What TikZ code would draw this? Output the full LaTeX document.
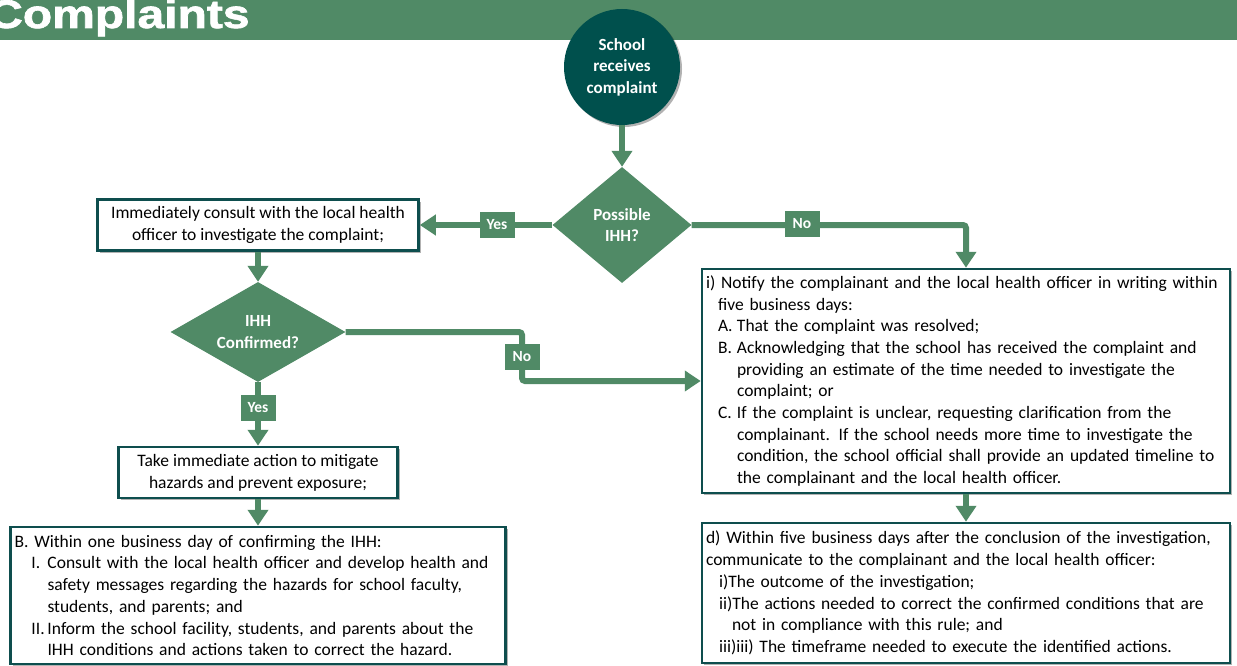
\documentclass[tikz,border=0pt]{standalone}
\usepackage{fontspec}
\setmainfont{Carlito}
\newfontfamily\headfont{Liberation Sans}[BoldFeatures={FakeBold=1.5}]
\usetikzlibrary{shapes.geometric,arrows.meta,shadows}
\definecolor{flowgreen}{RGB}{80,138,102}
\definecolor{darkteal}{RGB}{0,80,77}
\definecolor{boxline}{RGB}{14,78,78}

\begin{document}
\begin{tikzpicture}[x=1pt,y=-1pt,
    boxshadow/.style={drop shadow={shadow xshift=2pt,shadow yshift=-2pt,opacity=0.3,fill=black}},
    flowline/.style={draw=flowgreen, line width=6pt, rounded corners=3pt, -{Triangle[width=20pt,length=16pt]}}]
    \useasboundingbox (0,0) rectangle (1237,666);

    \fill[flowgreen] (0,0) rectangle (1237,40);
    \begin{scope}
        \clip (0,0) rectangle (1237,40);
        \node[anchor=base west, text=white, inner sep=0pt, font=\headfont\bfseries\fontsize{40}{44}\selectfont] (title) at (-12,28) {\scalebox{1.2}[1]{Complaints}};
    \end{scope}

    \begin{scope}[every node/.style={circle, fill=darkteal, text=white, boxshadow, minimum size=116pt, inner sep=0pt, align=center, font=\bfseries\fontsize{17}{21.5}\selectfont}]
        \node (start) at (622,67) {School\\receives\\complaint};
    \end{scope}

    \begin{scope}[every node/.style={diamond, fill=flowgreen, text=white, inner sep=0pt, align=center, font=\bfseries\fontsize{17}{21.5}\selectfont}]
        \node[aspect=1.2, minimum width=139pt, minimum height=116pt] (possible) at (622,225) {Possible\\IHH?};
        \node[aspect=1.75, minimum width=175pt, minimum height=100pt] (confirmed) at (258,332) {IHH\\Confirmed?};
    \end{scope}

    \begin{scope}[every node/.style={draw=boxline, line width=2.5pt, fill=white, boxshadow, inner sep=4pt, font=\fontsize{17.5}{21.7}\selectfont}]
        \node[minimum width=321pt, minimum height=51pt, align=center] (consult) at (258,225) {Immediately consult with the local health\\officer to investigate the complaint;};
        \node[minimum width=279pt, minimum height=51pt, align=center] (mitigate) at (258,472.5) {Take immediate action to mitigate\\hazards and prevent exposure;};
        \node[text width=487pt, minimum height=137pt, align=left] (within) at (258,595.5) {B. Within one business day of confirming the IHH:\\
            \hspace*{17pt}\makebox[16pt][l]{I.}Consult with the local health officer and develop health and\\
            \hspace*{33pt}safety messages regarding the hazards for school faculty,\\
            \hspace*{33pt}students, and parents; and\\
            \hspace*{17pt}\makebox[16pt][l]{II.}Inform the school facility, students, and parents about the\\
            \hspace*{33pt}IHH conditions and actions taken to correct the hazard.};
        \node[text width=520pt, minimum height=224pt, align=left] (notify) at (966,381) {i) Notify the complainant and the local health officer in writing within\\
            \hspace*{12pt}five business days:\\
            \hspace*{12pt}\makebox[19pt][l]{A.}That the complaint was resolved;\\
            \hspace*{12pt}\makebox[19pt][l]{B.}Acknowledging that the school has received the complaint and\\
            \hspace*{31pt}providing an estimate of the time needed to investigate the\\
            \hspace*{31pt}complaint; or\\
            \hspace*{12pt}\makebox[19pt][l]{C.}If the complaint is unclear, requesting clarification from the\\
            \hspace*{31pt}complainant. If the school needs more time to investigate the\\
            \hspace*{31pt}condition, the school official shall provide an updated timeline to\\
            \hspace*{31pt}the complainant and the local health officer.};
        \node[text width=520pt, minimum height=140pt, align=left] (conclude) at (966,593) {d) Within five business days after the conclusion of the investigation,\\
            communicate to the complainant and the local health officer:\\
            \hspace*{13pt}i)The outcome of the investigation;\\
            \hspace*{13pt}ii)The actions needed to correct the confirmed conditions that are\\
            \hspace*{26pt}not in compliance with this rule; and\\
            \hspace*{13pt}iii)iii) The timeframe needed to execute the identified actions.};
    \end{scope}

    \begin{scope}[every edge/.style={flowline}]
        \path (start) edge (possible);
        \path (possible) edge (consult);
        \path (consult) edge (confirmed);
        \path (confirmed) edge (mitigate);
        \path (mitigate) edge (within);
        \path (notify) edge (conclude);
    \end{scope}

    \coordinate (bend) at (522,381);
    \draw[flowline] (possible.east) -| (notify.north);
    \draw[flowline] (confirmed.east) -| (bend) -- (bend -| notify.west);

    \begin{scope}[every node/.style={fill=flowgreen, text=white, minimum width=35pt, minimum height=26pt, inner sep=0pt, font=\bfseries\fontsize{15.5}{15.5}\selectfont}]
        \node (yes1) at (497,225) {Yes};
        \node (no1) at (802,224) {No};
        \node (yes2) at (258,408) {Yes};
        \node (no2) at (522,357) {No};
    \end{scope}
\end{tikzpicture}
\end{document}
